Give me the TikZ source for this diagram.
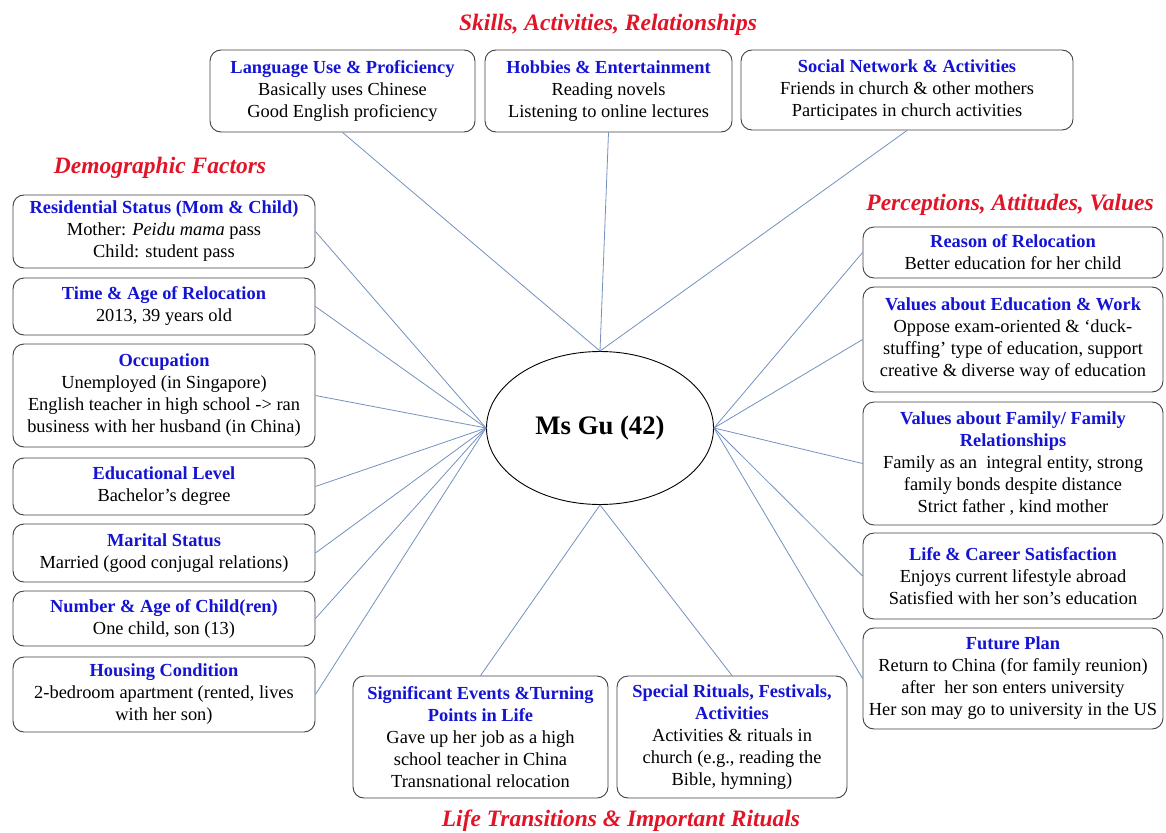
\documentclass[tikz,border=0pt]{standalone}
\usepackage{fontspec}
\setmainfont{Liberation Serif}
\usetikzlibrary{shapes.geometric}
\definecolor{hdblue}{RGB}{20,20,210}
\definecolor{secred}{RGB}{225,20,40}
\definecolor{linkblue}{RGB}{115,145,190}
\newcommand{\hd}[1]{{\bfseries\color{hdblue}#1}}
\tikzset{
  infobox/.style={draw=black!75, line width=0.9pt, rounded corners=11pt, fill=white,
    align=center, inner sep=0pt, font=\fontsize{18.4}{22}\selectfont},
  sectitle/.style={text=secred, font=\fontsize{23.5}{26}\selectfont\bfseries\itshape},
  link/.style={draw=linkblue, line width=0.8pt},
}
\newcommand{\bx}[6]{% name, x1, y1, x2, y2, text
  \node[infobox, minimum width={#4-#2}, minimum height={#5-#3}] (#1) at ({(#2+#4)/2},{(#3+#5)/2}) {#6};}
\begin{document}
\begin{tikzpicture}[x=1pt,y=-1pt]
\useasboundingbox (0,0) rectangle (1166,832);

% centre
\node[draw=black, line width=0.9pt, ellipse, minimum width=227, minimum height=153, inner sep=0pt,
      font=\fontsize{26.7}{30}\selectfont\bfseries] (ms) at (600,428) {Ms Gu (42)};

% section titles
\node[sectitle] (tskill) at (608,25) {Skills, Activities, Relationships};
\node[sectitle] (tdemo) at (160,168) {Demographic Factors};
\node[sectitle] (tperc) at (1010,205) {Perceptions, Attitudes, Values};
\node[sectitle] (tlife) at (621,821) {Life Transitions \& Important Rituals};

% top row
\bx{lang}{210}{50}{475}{132}{\hd{Language Use \& Proficiency}\\Basically uses Chinese\\Good English proficiency}
\bx{hob}{485}{50}{732}{132}{\hd{Hobbies \& Entertainment}\\Reading novels\\Listening to online lectures}
\bx{soc}{741}{50}{1073}{130}{\hd{Social Network \& Activities}\\Friends in church \& other mothers\\Participates in church activities}

% left column
\bx{res}{13}{195}{315}{268}{\hd{Residential Status (Mom \& Child)}\\Mother: \textit{Peidu mama} pass\\Child: student pass}
\bx{time}{13}{278}{315}{335}{\hd{Time \& Age of Relocation}\\2013, 39 years old}
\bx{occ}{13}{344}{315}{447}{\hd{Occupation}\\Unemployed (in Singapore)\\English teacher in high school -> ran\\business with her husband (in China)}
\bx{edu}{13}{458}{315}{515}{\hd{Educational Level}\\Bachelor’s degree}
\bx{mar}{13}{524}{315}{582}{\hd{Marital Status}\\Married (good conjugal relations)}
\bx{num}{13}{591}{315}{646}{\hd{Number \& Age of Child(ren)}\\One child, son (13)}
\bx{hou}{13}{657}{315}{732}{\hd{Housing Condition}\\2-bedroom apartment (rented, lives\\with her son)}

% right column
\bx{rea}{863}{227}{1163}{278}{\hd{Reason of Relocation}\\Better education for her child}
\bx{ved}{863}{287}{1163}{392}{\hd{Values about Education \& Work}\\Oppose exam-oriented \& ‘duck-\\stuffing’ type of education, support\\creative \& diverse way of education}
\bx{vfa}{863}{402}{1163}{525}{\hd{Values about Family/ Family}\\\hd{Relationships}\\Family as an\ \ integral entity, strong\\family bonds despite distance\\Strict father , kind mother}
\bx{lif}{863}{533}{1163}{619}{\hd{Life \& Career Satisfaction}\\Enjoys current lifestyle abroad\\Satisfied with her son’s education}
\bx{fut}{863}{628}{1163}{729}{\hd{Future Plan}\\Return to China (for family reunion)\\after\ \ her son enters university\\Her son may go to university in the US}

% bottom row
\bx{sig}{353}{676}{608}{798}{\hd{Significant Events \&Turning}\\\hd{Points in Life}\\Gave up her job as a high\\school teacher in China\\Transnational relocation}
\bx{spe}{617}{676}{847}{798}{\hd{Special Rituals, Festivals,}\\\hd{Activities}\\Activities \& rituals in\\church (e.g., reading the\\Bible, hymning)}

% connectors
\foreach \b in {lang,hob,soc} \draw[link] (ms.north) -- (\b.south);
\foreach \b in {res,time,occ,edu,mar,num,hou} \draw[link] (ms.west) -- (\b.east);
\foreach \b in {rea,ved,vfa,lif,fut} \draw[link] (ms.east) -- (\b.west);
\foreach \b in {sig,spe} \draw[link] (ms.south) -- (\b.north);
\end{tikzpicture}
\end{document}
